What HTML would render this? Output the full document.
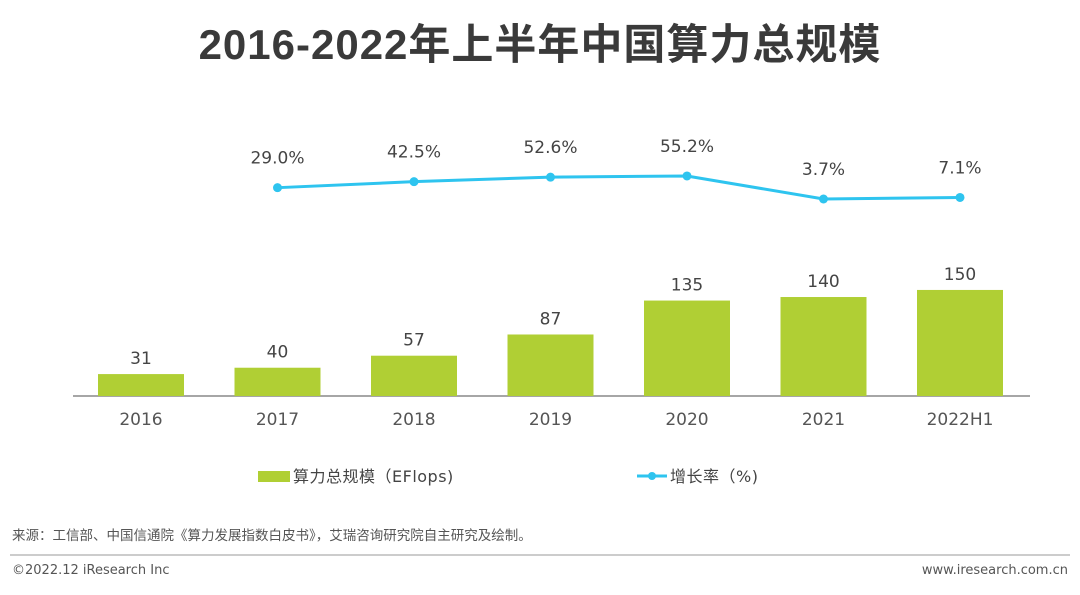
<!DOCTYPE html>
<html><head><meta charset="utf-8"><style>
body{margin:0;background:#fff;width:1080px;height:590px;overflow:hidden;font-family:"Liberation Sans","Noto Sans CJK SC",sans-serif;}
</style></head><body>
<svg width="1080" height="590" style="font-family:'DejaVu Sans','Noto Sans CJK SC',sans-serif">
<text x="540" y="59" text-anchor="middle" font-size="42" font-weight="bold" fill="#3a3a3a" letter-spacing="1" font-family="'Liberation Sans','Noto Sans CJK SC',sans-serif">2016-2022年上半年中国算力总规模</text>
<line x1="73" y1="396" x2="1030" y2="396" stroke="#888" stroke-width="1.5"/>
<g id="bars"></g><g id="line"></g>
<g>
<rect x="258" y="471" width="32" height="11" fill="#b0cf34"/>
<text x="293" y="482" font-size="16" fill="#444" letter-spacing="0.5">算力总规模（EFlops)</text>
<line x1="637" y1="476" x2="667" y2="476" stroke="#2ec4ef" stroke-width="3"/>
<circle cx="652" cy="476" r="4" fill="#2ec4ef"/>
<text x="670" y="482" font-size="16" fill="#444" letter-spacing="0.5">增长率（%)</text>
</g>
<text x="12" y="540" font-size="13.5" fill="#555">来源：工信部、中国信通院《算力发展指数白皮书》，艾瑞咨询研究院自主研究及绘制。</text>
<line x1="10" y1="555" x2="1070" y2="555" stroke="#bbb" stroke-width="1.5"/>
<text x="12" y="574" font-size="13" fill="#555">©2022.12 iResearch Inc</text>
<text x="1068" y="574" font-size="13" fill="#555" text-anchor="end">www.iresearch.com.cn</text>
</svg>
<script>
const categories=["2016","2017","2018","2019","2020","2021","2022H1"];
const scaleValues=[31,40,57,87,135,140,150];
const growthCats=["2017","2018","2019","2020","2021","2022H1"];
const growthValues=[29.0,42.5,52.6,55.2,3.7,7.1];
const NS="http://www.w3.org/2000/svg";
function xPos(i){return 141+i*136.5;}
function yBar(v){return 396-v*0.707;}
function yLine(v){return 200.65-v*0.447;}
function mk(t,a){const e=document.createElementNS(NS,t);for(const k in a)e.setAttribute(k,a[k]);return e;}
const bars=document.getElementById('bars');
categories.forEach((c,i)=>{
 const v=scaleValues[i],x=xPos(i),y=yBar(v);
 const r=mk('rect',{x:x-43,y:y,width:86,height:396-y,fill:'#b0cf34'});
 
 
 bars.appendChild(r);
 const t=mk('text',{x:x,y:y-10,'text-anchor':'middle','font-size':'17',fill:'#444'});
 t.textContent=v;
 
 
 bars.appendChild(t);
 const l=mk('text',{x:x,y:425,'text-anchor':'middle','font-size':'17',fill:'#555'});
 l.textContent=c;
 
 
 bars.appendChild(l);
});
const lg=document.getElementById('line');
const pts=growthCats.map((c,j)=>[xPos(categories.indexOf(c)),yLine(growthValues[j])]);
const pl=mk('polyline',{points:pts.map(p=>p.join(',')).join(' '),fill:'none',stroke:'#2ec4ef','stroke-width':'3'});


lg.appendChild(pl);
pts.forEach((p,j)=>{
 const c=mk('circle',{cx:p[0],cy:p[1],r:4.5,fill:'#2ec4ef'});
 
 
 lg.appendChild(c);
 const t=mk('text',{x:p[0],y:p[1]-24,'text-anchor':'middle','font-size':'17',fill:'#444'});
 t.textContent=growthValues[j].toFixed(1)+'%';
 
 
 lg.appendChild(t);
});
</script>
</body></html>
